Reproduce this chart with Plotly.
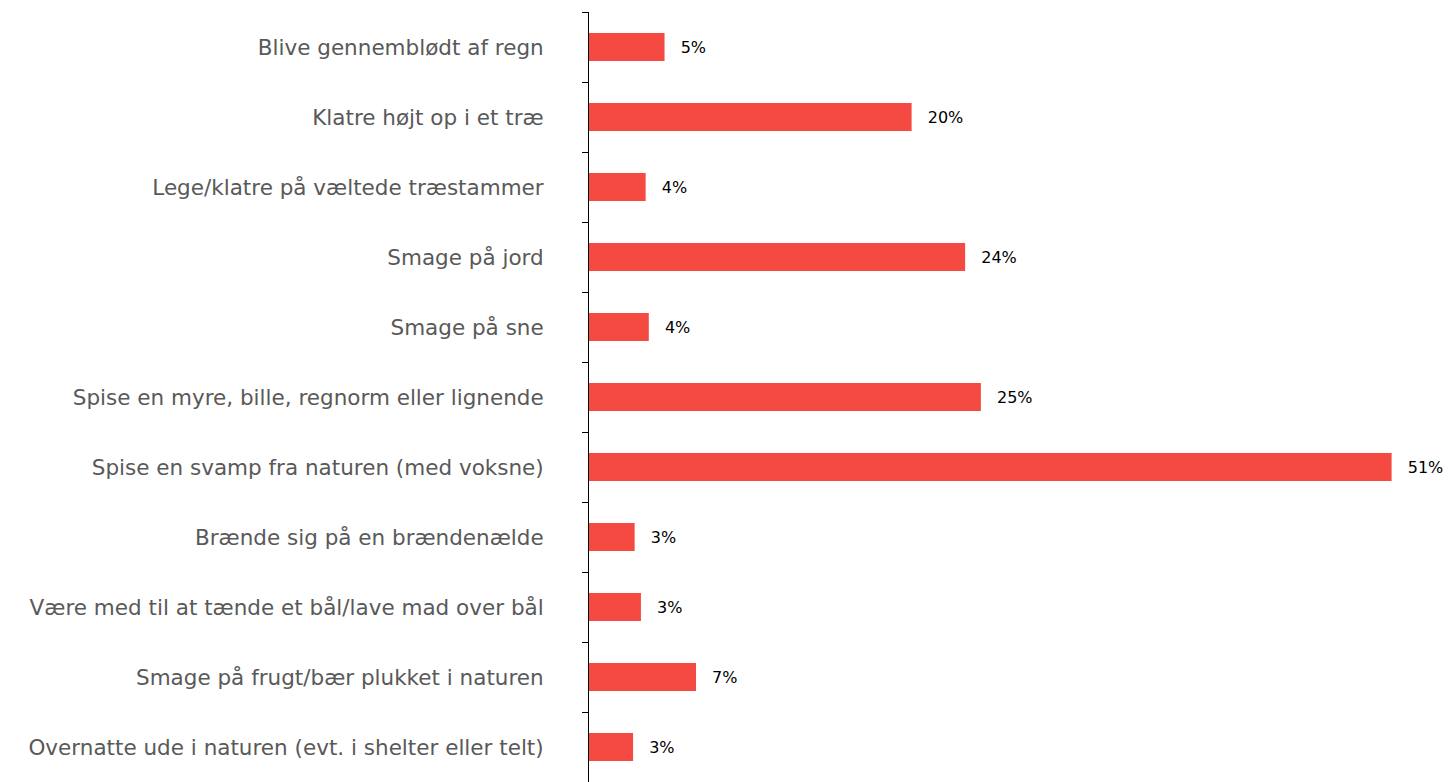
import plotly.graph_objects as go

categories = [
    "Blive gennemblødt af regn",
    "Klatre højt op i et træ",
    "Lege/klatre på væltede træstammer",
    "Smage på jord",
    "Smage på sne",
    "Spise en myre, bille, regnorm eller lignende",
    "Spise en svamp fra naturen (med voksne)",
    "Brænde sig på en brændenælde",
    "Være med til at tænde et bål/lave mad over bål",
    "Smage på frugt/bær plukket i naturen",
    "Overnatte ude i naturen (evt. i shelter eller telt)",
]
values = [4.8, 20.5, 3.6, 23.9, 3.8, 24.9, 51.0, 2.9, 3.3, 6.8, 2.8]
labels = ["5%", "20%", "4%", "24%", "4%", "25%", "51%", "3%", "3%", "7%", "3%"]

pad = "\u2002\u00a0"

fig = go.Figure(
    go.Bar(
        x=values,
        y=categories,
        orientation="h",
        width=0.4,
        marker=dict(color="#F44A41", line=dict(width=0)),
        text=[pad + t for t in labels],
        textposition="outside",
        cliponaxis=False,
        textfont=dict(family="DejaVu Sans", size=16, color="#000000"),
        hoverinfo="skip",
    )
)

fig.update_layout(
    width=1445,
    height=774,
    margin=dict(l=581, r=0, t=4, b=0),
    paper_bgcolor="white",
    plot_bgcolor="white",
    showlegend=False,
    font=dict(family="DejaVu Sans"),
)

fig.update_xaxes(
    range=[0, 54.9],
    visible=False,
    showgrid=False,
    zeroline=False,
)

fig.update_yaxes(
    categoryorder="array",
    categoryarray=categories,
    autorange="reversed",
    showline=True,
    linecolor="#000000",
    linewidth=1,
    ticks="outside",
    ticklen=6,
    tickcolor="#000000",
    tickson="boundaries",
    ticklabelstandoff=40,
    showgrid=False,
    tickfont=dict(family="DejaVu Sans", size=21.5, color="#595959"),
)

fig.write_html("out.html")
